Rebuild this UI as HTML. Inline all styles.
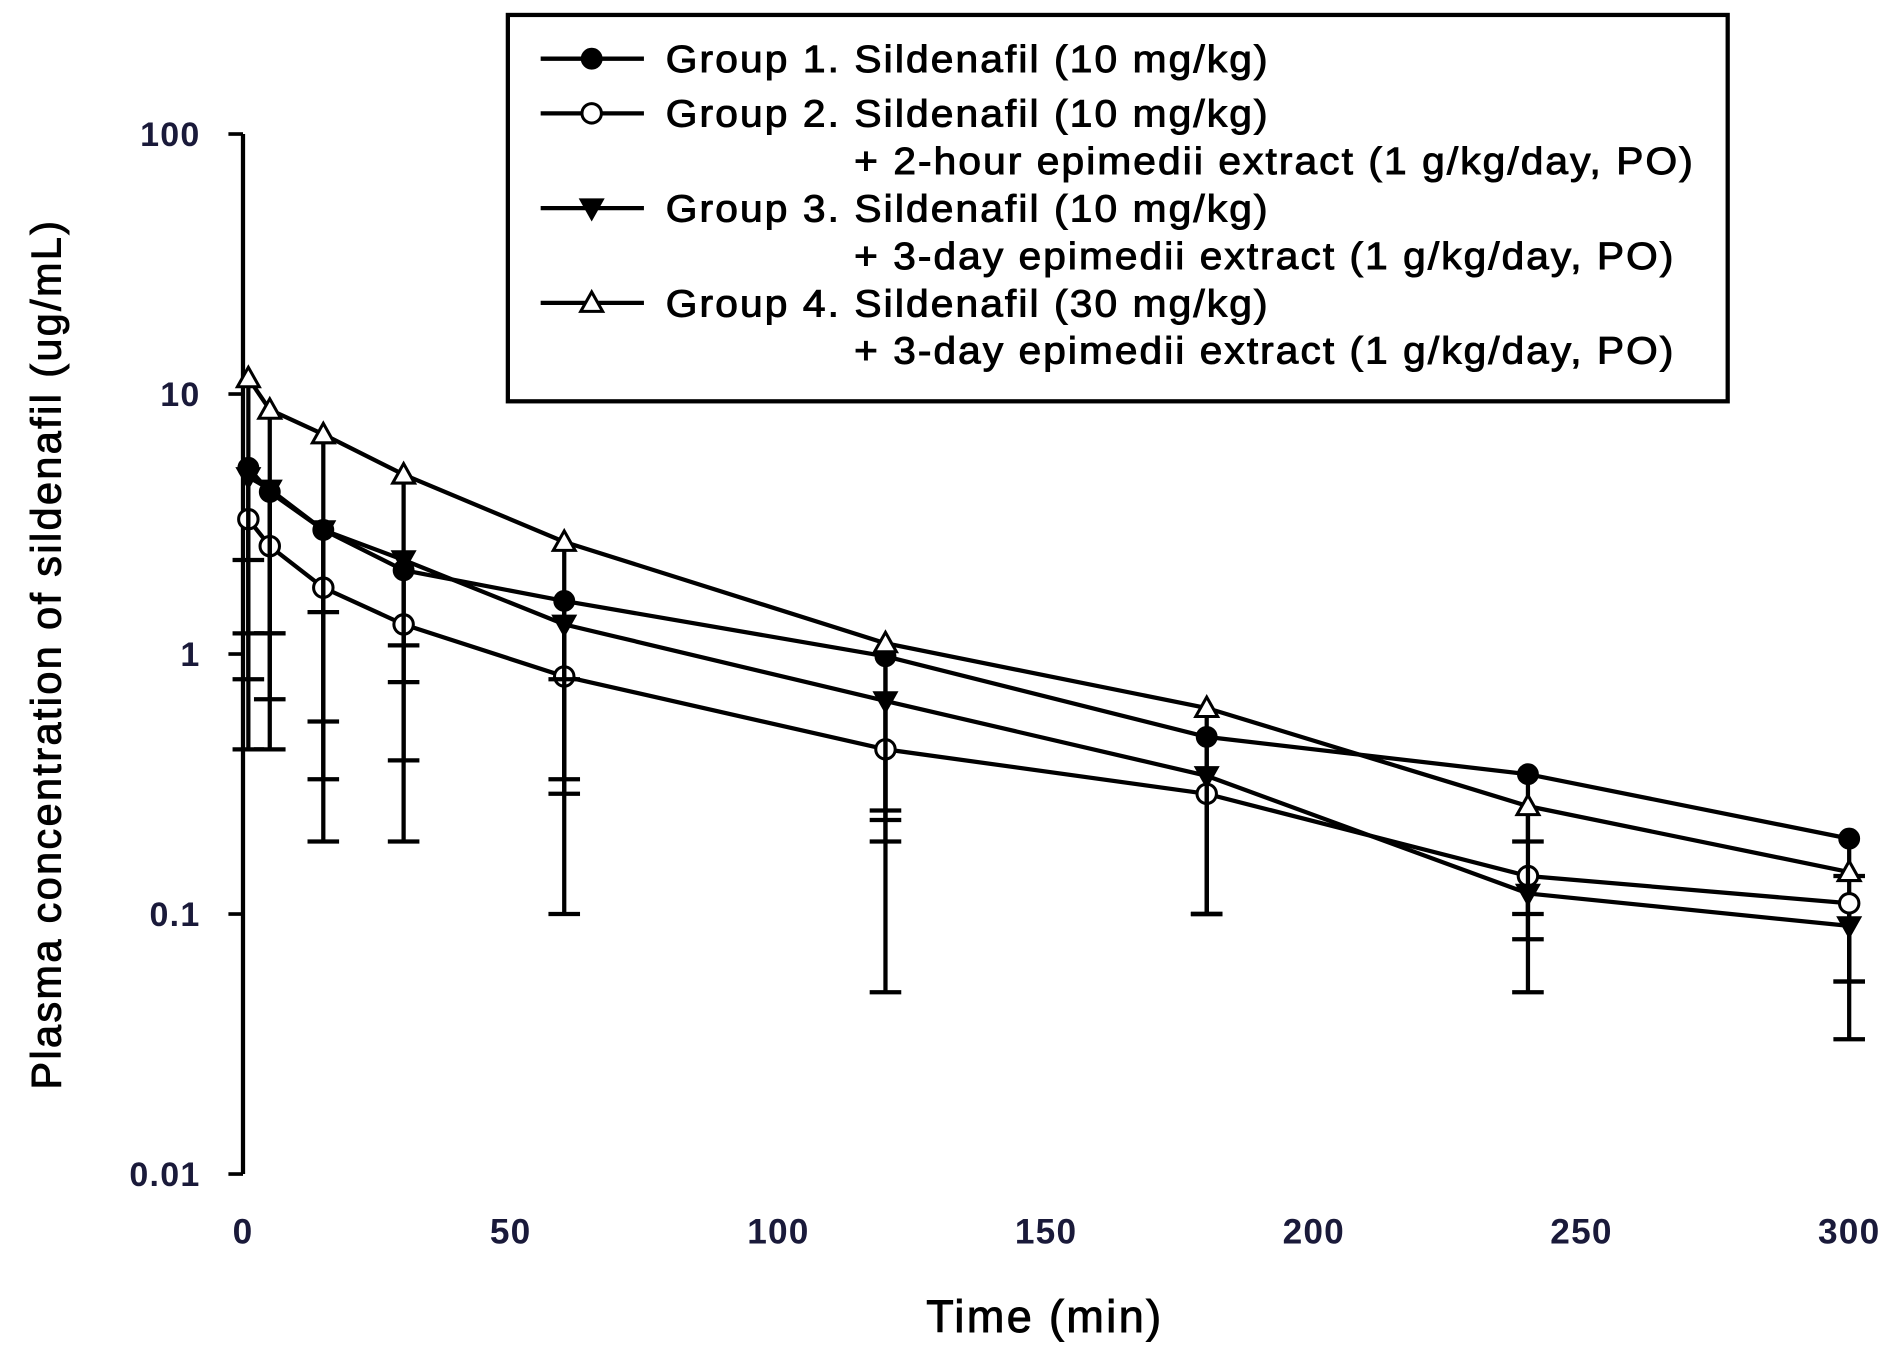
<!DOCTYPE html>
<html><head><meta charset="utf-8"><style>
html,body{margin:0;padding:0;background:#fff;}
svg{display:block;font-family:"Liberation Sans",Arial,sans-serif;}
</style></head><body>
<svg id="chart" width="1899" height="1353" viewBox="0 0 1563 1113" xmlns="http://www.w3.org/2000/svg">
<g id="axes"></g>
<g id="series"></g>
<g id="legend"></g>
</svg>
<script>
const times = [1, 5, 15, 30, 60, 120, 180, 240, 300];
const g1 = [5.2, 4.2, 3.0, 2.1, 1.6, 0.98, 0.48, 0.345, 0.195];
const g2 = [3.3, 2.6, 1.8, 1.3, 0.82, 0.43, 0.29, 0.14, 0.11];
const g3 = [4.8, 4.3, 3.0, 2.3, 1.3, 0.66, 0.34, 0.12, 0.09];
const g4 = [11.5, 8.7, 7.0, 4.9, 2.7, 1.1, 0.62, 0.26, 0.145];
const g1Low = [1.2, 1.2, 0.55, 0.78, 0.33, 0.25, 0.1, 0.19, 0.055];
const g2Low = [0.8, 0.67, 0.33, 0.39, 0.29, 0.23, 0.1, 0.08, 0.055];
const g3Low = [0.43, 0.43, 0.19, 0.19, 0.1, 0.05, 0.1, 0.05, 0.033];
const g4Low = [2.3, 1.2, 1.45, 1.08, 0.8, 0.19, 0.1, 0.1, 0.14];
const xTicks = [0, 50, 100, 150, 200, 250, 300];
const yTicks = [100, 10, 1, 0.1, 0.01];
const yTickLabels = ["100", "10", "1", "0.1", "0.01"];

const NS = "http://www.w3.org/2000/svg";
const X0 = 200, X1 = 1522, YTOP = 110, YBOT = 966;
function xs(t){ return X0 + (t/300)*(X1-X0); }
function ys(v){ return YBOT - (Math.log10(v)+2)/4*(YBOT-YTOP); }
function mk(tag, attrs, parent){ const e=document.createElementNS(NS,tag); for(const k in attrs) e.setAttribute(k,attrs[k]); parent.appendChild(e); return e; }

const axes = document.getElementById('axes');
const yAxis = mk('line',{x1:X0,y1:YTOP,x2:X0,y2:YBOT,stroke:'#000','stroke-width':3.5},axes);


yTicks.forEach((v,i)=>{
  const tk = mk('line',{x1:X0-12,y1:ys(v),x2:X0,y2:ys(v),stroke:'#000','stroke-width':3},axes);
  
  
  const tl = mk('text',{x:165,y:ys(v)+10,'text-anchor':'end','font-size':28,'font-weight':'bold','letter-spacing':1,fill:'#1a1a3a'},axes);
  tl.textContent = yTickLabels[i];
  
  
});
xTicks.forEach(t=>{
  const tl = mk('text',{x:xs(t),y:1023,'text-anchor':'middle','font-size':29,'font-weight':'bold','letter-spacing':1,fill:'#1a1a3a'},axes);
  tl.textContent = String(t);
  
  
});
const xt = mk('text',{x:860,y:1096,'text-anchor':'middle','font-size':37,'letter-spacing':2,stroke:'#000','stroke-width':0.8},axes);
xt.textContent='Time (min)';


const yt = mk('text',{x:0,y:0,'text-anchor':'middle','font-size':34,'letter-spacing':2,stroke:'#000','stroke-width':0.8,transform:'translate(50,538) rotate(-90)'},axes);
yt.textContent='Plasma concentration of sildenafil (ug/mL)';



function marker(type,x,y,parent){
  let e;
  if(type==='fc') e=mk('circle',{cx:x,cy:y,r:8,fill:'#000',stroke:'#000','stroke-width':2},parent);
  else if(type==='oc') e=mk('circle',{cx:x,cy:y,r:8,fill:'#fff',stroke:'#000','stroke-width':2.5},parent);
  else if(type==='dt') e=mk('polygon',{points:`${x-9},${y-7} ${x+9},${y-7} ${x},${y+9}`,fill:'#000',stroke:'#000','stroke-width':2},parent);
  else e=mk('polygon',{points:`${x-9},${y+7} ${x+9},${y+7} ${x},${y-9}`,fill:'#fff',stroke:'#000','stroke-width':2.5},parent);
  return e;
}

const seriesG = document.getElementById('series');
const groups = [
  {name:'group-1',vals:g1,low:g1Low,m:'fc'},
  {name:'group-2',vals:g2,low:g2Low,m:'oc'},
  {name:'group-3',vals:g3,low:g3Low,m:'dt'},
  {name:'group-4',vals:g4,low:g4Low,m:'ot'}
];
groups.forEach(g=>{
  const sg = mk('g',{},seriesG);
  
  
  times.forEach((t,i)=>{
    const x=xs(t);
    const eb = mk('line',{x1:x,y1:ys(g.vals[i]),x2:x,y2:ys(g.low[i]),stroke:'#000','stroke-width':3.5},sg);
    
    
    const cap = mk('line',{x1:x-13,y1:ys(g.low[i]),x2:x+13,y2:ys(g.low[i]),stroke:'#000','stroke-width':3.5},sg);
    
    
  });
  const pts = times.map((t,i)=>xs(t)+','+ys(g.vals[i])).join(' ');
  const pl = mk('polyline',{points:pts,fill:'none',stroke:'#000','stroke-width':3.5},sg);
  
  
  times.forEach((t,i)=>{
    const mm = marker(g.m,xs(t),ys(g.vals[i]),sg);
    
    
  });
});

const lg = document.getElementById('legend');
const box = mk('rect',{x:418,y:12,width:1004,height:318,fill:'#fff',stroke:'#000','stroke-width':3.5},lg);


const entries = [
  {m:'fc',y:48,lines:['Group 1. Sildenafil (10 mg/kg)']},
  {m:'oc',y:93,lines:['Group 2. Sildenafil (10 mg/kg)','+ 2-hour epimedii extract (1 g/kg/day, PO)']},
  {m:'dt',y:171,lines:['Group 3. Sildenafil (10 mg/kg)','+ 3-day epimedii extract (1 g/kg/day, PO)']},
  {m:'ot',y:249,lines:['Group 4. Sildenafil (30 mg/kg)','+ 3-day epimedii extract (1 g/kg/day, PO)']}
];
entries.forEach(en=>{
  const eg = mk('g',{},lg);
  
  
  mk('line',{x1:445,y1:en.y,x2:530,y2:en.y,stroke:'#000','stroke-width':3.5},eg);
  marker(en.m,487,en.y,eg);
  en.lines.forEach((s,j)=>{
    const t = mk('text',{x:j===0?548:703,y:en.y+11+j*39,'font-size':31,'letter-spacing':1.6,stroke:'#000','stroke-width':0.8},eg);
    t.setAttribute('textLength', j===0 ? 497 : (s.indexOf('2-hour')>=0 ? 692 : 676));
    t.setAttribute('lengthAdjust','spacingAndGlyphs');
    t.textContent = s;
  });
});
</script>
</body></html>
